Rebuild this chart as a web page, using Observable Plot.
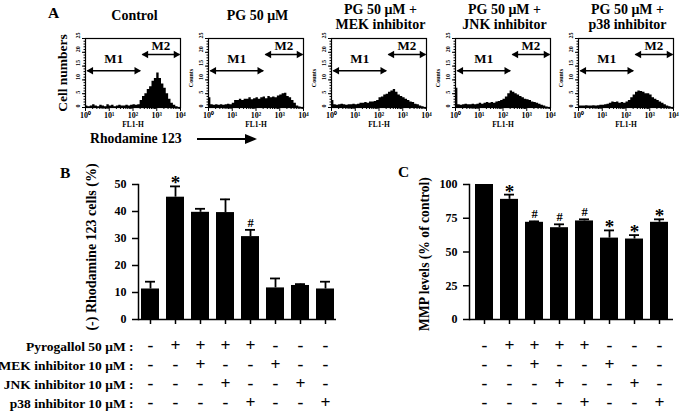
<!DOCTYPE html>
<html>
<head>
<meta charset="utf-8">
<script src="https://cdn.jsdelivr.net/npm/d3@7"></script>
<script src="https://cdn.jsdelivr.net/npm/@observablehq/plot@0.6"></script>
<style>
html,body{margin:0;padding:0;background:#fff;}
#fig{position:relative;width:685px;height:415px;overflow:hidden;background:#fff;}
#fig svg{position:absolute;}
</style>
</head>
<body>
<div id="fig"></div>
<script>
// ---------------- Panel A: flow cytometry histograms ----------------
const panelTitles = [["Control"], ["PG 50 μM"], ["PG 50 μM +", "MEK inhibitor"], ["PG 50 μM +", "JNK inhibitor"], ["PG 50 μM +", "p38 inhibitor"]];
// bin starts, log10(FL1-H)
const binStart = [0.0,0.1,0.2,0.3,0.4,0.5,0.6,0.7,0.8,0.9,1.0,1.1,1.2,1.3,1.4,1.5,1.6,1.7,1.8,1.9,2.0,2.1,2.2,2.3,2.4,2.5,2.6,2.7,2.8,2.9,3.0,3.1,3.2,3.3,3.4,3.5,3.6,3.7,3.8,3.9];
const histControl = [0.5,0.3,0.5,1,0.5,0.3,0.8,0.5,0.3,1, 0.5,0.8,0.3,0.5,0.8,0.5,0.5,0.8,0.5,0.8, 1,0.8,1,2.5,4,5,6.5,7.5,9.5,10.5, 12.5,10.5,8.5,7,5,3,1.5,0.8,0.3,0];
const histPG      = [3.5,1,0.8,1,0.8,1,0.8,1,1.2,1, 1.5,2.5,2.5,3,2.5,3,3,3.5,2.8,3.2, 3.5,3,3.5,3.8,3.2,4,3.5,3.8,3.5,4.2, 4.5,5,5.2,4,3.5,2.5,1.5,0.5,0.2,0];
const histMEK     = [2.5,1,0.8,1,1.2,1,0.8,1,1,1.2, 1,1.2,1.5,1.5,1.8,1.5,2,2,2.2,2.5, 3.5,3.8,4.5,4.8,5.5,6,6.5,5.5,4.5,4, 3.5,3,2.5,2,1.8,1.2,1,0.5,0.3,0];
const histJNK     = [7,1,0.8,1,1.2,1,1,1.2,1,1.2, 1.5,1.2,1.5,1.8,1.5,1.8,1.5,2,2.2,2.5, 3,3.8,5,6,5.5,5,4.5,4,3.5,3, 2.8,2.5,2,1.8,1.5,1.2,0.8,0.5,0.2,0];
const histP38     = [0.5,0.5,0.5,0.6,0.5,0.5,0.6,0.5,0.6,0.8, 0.8,1,1.2,1.5,2,1.8,2,1.5,1.8,1.5, 2,2.5,3.5,4.5,5.5,6,5.8,5.5,5,5, 4.5,3.5,3,2.5,2,1.5,1,0.5,0.3,0];
const fl1Ticks = [1, 10, 100, 1000, 10000];
const fl1TickLabels = ["10⁰", "10¹", "10²", "10³", "10⁴"];
const countTicks = [0, 5, 10, 15, 20, 25];
const gateNames = ["M1", "M2"];
const gateLo = [1.2, 250];
const gateHi = [200, 9000];

// ---------------- Panels B and C ----------------
const groups = ["Control", "PG", "PG+MEK", "PG+JNK", "PG+p38", "MEK", "JNK", "p38"];
const rhoMean = [11.3, 45.3, 39.7, 39.6, 30.7, 11.7, 12.6, 11.3];
const rhoErr  = [2.7, 4.0, 1.3, 4.9, 2.5, 3.5, 0.5, 2.7];
const rhoSig  = ["", "*", "", "", "#", "", "", ""];
const rhoTicks = [0, 10, 20, 30, 40, 50];
const mmpMean = [100, 89, 72, 68, 73, 60.3, 59.6, 72];
const mmpErr  = [0, 3.5, 0.7, 2.5, 1.2, 5.7, 2.9, 2.2];
const mmpSig  = ["", "*", "#", "#", "#", "*", "*", "*"];
const mmpTicks = [0, 25, 50, 75, 100];
const rowLabels = ["Pyrogallol 50 μM :", "MEK inhibitor 10 μM :", "JNK inhibitor 10 μM :", "p38 inhibitor 10 μM :"];
const rowPyro = ["-", "+", "+", "+", "+", "-", "-", "-"];
const rowMEK  = ["-", "-", "+", "-", "-", "+", "-", "-"];
const rowJNK  = ["-", "-", "-", "+", "-", "-", "+", "-"];
const rowP38  = ["-", "-", "-", "-", "+", "-", "-", "+"];

// ---------------- drawing ----------------
const SERIF = '"Liberation Serif","Times New Roman",serif';
const fig = document.getElementById("fig");
const baseStyle = {fontFamily: SERIF, fontWeight: "bold", background: "transparent", overflow: "visible", color: "black"};
function place(el, left, top) { el.style.left = left + "px"; el.style.top = top + "px"; fig.appendChild(el); }

const histPanels = [histControl, histPG, histMEK, histJNK, histP38];
const frameLefts = [85, 208, 331, 455, 578];
const gateY = [13.3, 19.2];
const gateLabelY = [17.7, 22.2];
const minorLog = d3.scaleLog().domain([1, 1e4]).ticks().filter(t => !fl1Ticks.includes(t));
const gates = gateNames.map((n, k) => ({n, lo: gateLo[k], hi: gateHi[k], y: gateY[k], ly: gateLabelY[k]}));

histPanels.forEach((counts, i) => {
  const pts = binStart.map((e, j) => ({x: 10 ** e, n: counts[j]}));
  pts.push({x: 1e4, n: counts[counts.length - 1]});
  const svg = Plot.plot({
    width: 140, height: 130, marginLeft: 40, marginRight: 5, marginTop: 38, marginBottom: 23,
    style: baseStyle,
    x: {type: "log", domain: [1, 1e4]},
    y: {domain: [0, 25]},
    marks: [
      Plot.areaY(pts, {x: "x", y: "n", curve: "step-after", fill: "black"}),
      Plot.frame({stroke: "black", strokeWidth: 1.2}),
      Plot.axisX({ticks: fl1Ticks, tickSize: 4, tickPadding: 0.5, fontSize: 8, tickFormat: d => fl1TickLabels[fl1Ticks.indexOf(d)], label: null}),
      Plot.axisX({ticks: minorLog, tickSize: 2, tickFormat: () => "", label: null}),
      Plot.axisY({ticks: countTicks, tickSize: 3, tickFormat: () => "", label: null}),
      Plot.axisY({ticks: d3.range(0, 26), tickSize: 1.5, tickFormat: () => "", label: null}),
      Plot.text(countTicks, {y: d => d, text: d => String(d), frameAnchor: "left", dx: -7, rotate: -90, fontSize: 6}),
      Plot.text(["FL1-H"], {frameAnchor: "bottom", dy: 19, lineAnchor: "bottom", fontSize: 7.5}),
      Plot.link(gates, {x1: "lo", x2: "hi", y1: "y", y2: "y", stroke: "black", strokeWidth: 1.5}),
      Plot.dot(gates, {x: "lo", y: "y", symbol: "triangle", r: 2.8, rotate: -90, fill: "black", dx: 3.5}),
      Plot.dot(gates, {x: "hi", y: "y", symbol: "triangle", r: 2.8, rotate: 90, fill: "black", dx: -3.5}),
      Plot.text(gates, {x: d => Math.sqrt(d.lo * d.hi), y: "ly", text: "n", fontSize: 13})
    ]
  });
  place(svg, frameLefts[i] - 40, 0);
});

const rowSigns = [rowPyro, rowMEK, rowJNK, rowP38];
function barPanel(o) {
  const data = groups.map((g, i) => ({g, v: o.mean[i], e: o.err[i], s: o.sig[i]}));
  const withErr = data.filter(d => d.e > 0);
  const marks = [
    Plot.barY(data, {x: "g", y: "v", fill: "black"}),
    Plot.ruleX(withErr, {x: "g", y1: "v", y2: d => d.v + d.e, stroke: "black", strokeWidth: 1.8}),
    Plot.tickY(withErr, {x: "g", y: d => d.v + d.e, insetLeft: 4, insetRight: 4, stroke: "black", strokeWidth: 1.8}),
    Plot.text(data.filter(d => d.s === "*"), {x: "g", y: d => d.v + d.e, text: "s", lineAnchor: "bottom", dy: 3, fontSize: 19}),
    Plot.text(data.filter(d => d.s === "#"), {x: "g", y: d => d.v + d.e, text: "s", lineAnchor: "bottom", dy: -3, fontSize: 12.5}),
    Plot.ruleY([0], {stroke: "black", strokeWidth: 1.5}),
    Plot.frame({anchor: "left", stroke: "black", strokeWidth: 1.5}),
    Plot.axisY({ticks: o.ticks, tickSize: 6, tickPadding: 6, fontSize: 12, label: null, strokeWidth: 1.5}),
    Plot.axisX({tickSize: 5, tickFormat: () => "", label: null, strokeWidth: 1.5}),
    ...rowSigns.map((signs, r) => Plot.text(data, {x: "g", text: d => signs[groups.indexOf(d.g)], frameAnchor: "bottom", dy: 31 + 19 * r, fontSize: 17.5}))
  ];
  if (o.rowLabels) {
    rowLabels.forEach((lab, r) => marks.push(Plot.text([lab], {frameAnchor: "bottom-left", dx: -5, dy: 31 + 19 * r, textAnchor: "end", fontSize: 13.5})));
  }
  return Plot.plot({
    width: o.width, height: 265, marginLeft: o.marginLeft, marginRight: o.marginRight, marginTop: 34, marginBottom: 96,
    style: baseStyle,
    x: {domain: groups, paddingInner: 0.29, paddingOuter: o.paddingOuter, axis: null},
    y: {domain: o.domain, axis: null},
    marks
  });
}
place(barPanel({mean: rhoMean, err: rhoErr, sig: rhoSig, ticks: rhoTicks, domain: [0, 50], width: 345, marginLeft: 138, marginRight: 9, paddingOuter: 0.043, rowLabels: true}), 0, 150);
place(barPanel({mean: mmpMean, err: mmpErr, sig: mmpSig, ticks: mmpTicks, domain: [0, 100], width: 340, marginLeft: 124, marginRight: 12, paddingOuter: 0.176, rowLabels: false}), 345, 150);

// ---------------- overlay: panel letters, titles, axis titles ----------------
const ov = d3.create("svg").attr("width", 685).attr("height", 415)
  .attr("font-family", SERIF).attr("font-weight", "bold").style("left", "0px").style("top", "0px").style("overflow", "visible");
function txt(s, x, y, size, anchor = "start", rot = 0) {
  const t = ov.append("text").attr("x", x).attr("y", y).attr("font-size", size).attr("text-anchor", anchor).text(s);
  if (rot) t.attr("transform", `rotate(${rot},${x},${y})`);
  return t;
}
txt("A", 48, 18, 15.5);
txt("B", 60, 178, 15.5);
txt("C", 398, 177, 15.5);
panelTitles.forEach((lines, i) => {
  const cx = frameLefts[i] + 49.5;
  if (lines.length === 1) txt(lines[0], cx, 20, 14, "middle");
  else { txt(lines[0], cx, 14, 14, "middle"); txt(lines[1], cx, 29, 14, "middle"); }
  if (i > 0) txt("Counts", frameLefts[i] - 15, 78, 6, "middle", -90);
});
txt("Cell numbers", 67, 73, 13.5, "middle", -90);
txt("Rhodamine 123", 90, 142.5, 13.7);
ov.append("line").attr("x1", 197).attr("x2", 248).attr("y1", 139).attr("y2", 139).attr("stroke", "black").attr("stroke-width", 2);
ov.append("path").attr("d", "M245,134L257,139L245,144Z").attr("fill", "black");
txt("(-) Rhodamine 123 cells (%)", 96, 247, 14, "middle", -90);
txt("MMP levels (% of control)", 429, 254, 13.6, "middle", -90);
place(ov.node(), 0, 0);
</script>
</body>
</html>
